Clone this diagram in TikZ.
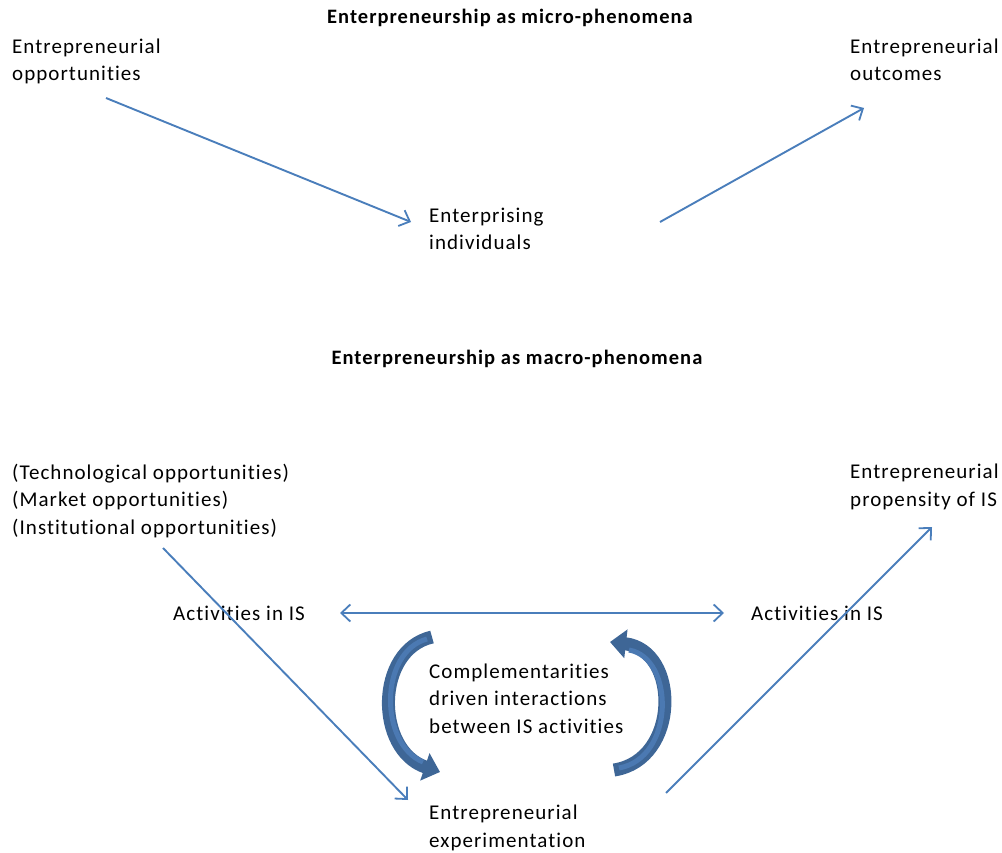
\documentclass[tikz,border=0pt]{standalone}
\usepackage{fontspec}
\setmainfont{Carlito}[LetterSpace=5,Ligatures=NoCommon]
\usetikzlibrary{arrows.meta,calc}

\definecolor{linkblue}{HTML}{4A7EBB}
\definecolor{loopdark}{HTML}{3E6696}
\definecolor{looplight}{HTML}{4B79B2}

\tikzset{
  lbl/.style={anchor=base west,inner sep=0pt,align=left,
    font=\fontsize{21}{27.5}\selectfont},
  ttl/.style={anchor=base,inner sep=0pt,
    font=\fontsize{20.5}{24}\selectfont\bfseries},
  barb/.tip={Straight Barb[length=9pt,width=17pt,line width=1.8pt]},
  arr/.style={draw=linkblue,line width=1.9pt,-barb},
  arrboth/.style={draw=linkblue,line width=1.9pt,barb-barb},
  loop/.style={draw=loopdark,line width=13pt,
    -{Triangle[length=16pt,width=28pt]}},
  loopin/.style={draw=looplight,line width=5pt}
}

\begin{document}
\begin{tikzpicture}[x=1pt,y=-1pt]
        \useasboundingbox (0,0) rectangle (1002,853);
        % micro level
        \node[ttl] (microtitle) at (510,24) {Enterpreneurship as micro-phenomena};
        \node[lbl] (opps) at (12,81) {Entrepreneurial\\opportunities};
        \node[lbl] (indiv) at (429,250) {Enterprising\\individuals};
        \node[lbl] (outcomes) at (850,81) {Entrepreneurial\\outcomes};
        \draw[arr] ($(opps.base west)+(94,17)$) -- ($(indiv.base west)+(-18,-28)$);
        \draw[arr] ($(indiv.base west)+(231,-28)$) -- ($(outcomes.base west)+(14,27)$);
        % macro level
        \node[ttl] (macrotitle) at (517,364) {Enterpreneurship as macro-phenomena};
        \node[lbl] (sources) at (12,534) {(Technological opportunities)\\(Market opportunities)\\(Institutional opportunities)};
        \node[lbl] (propensity) at (850,506) {Entrepreneurial\\propensity of IS};
        \node[lbl] (actleft) at (173,620) {Activities in IS};
        \node[lbl] (actright) at (751,620) {Activities in IS};
        \node[lbl] (compl) at (429,733) {Complementarities\\driven interactions\\between IS activities};
        \node[lbl] (exper) at (429,847) {Entrepreneurial\\experimentation};
        \draw[arrboth] ($(actleft.base west)+(167,-7)$) -- ($(actright.base west)+(-27,-7)$);
        \draw[arr] ($(sources.base west)+(151,14)$) -- ($(exper.base west)+(-21,-47)$);
        \draw[arr] ($(exper.base west)+(237,-54)$) -- ($(propensity.base west)+(82,21)$);
        % interaction loops
        \draw[loop] ($(compl.base west)+(3,-96)$) .. controls ($(compl.base west)+(-54,-83)$) and ($(compl.base west)+(-54,17)$) .. ($(compl.base west)+(11,39)$);
        \draw[loopin] ($(compl.base west)+(-2,-94)$) .. controls ($(compl.base west)+(-50,-81)$) and ($(compl.base west)+(-50,11)$) .. ($(compl.base west)+(-6,29)$);
        \draw[loop] ($(compl.base west)+(185,37)$) .. controls ($(compl.base west)+(251,27)$) and ($(compl.base west)+(251,-83)$) .. ($(compl.base west)+(181,-91)$);
        \draw[loopin] ($(compl.base west)+(190,35)$) .. controls ($(compl.base west)+(246,25)$) and ($(compl.base west)+(246,-75)$) .. ($(compl.base west)+(200,-83)$);
\end{tikzpicture}
\end{document}
